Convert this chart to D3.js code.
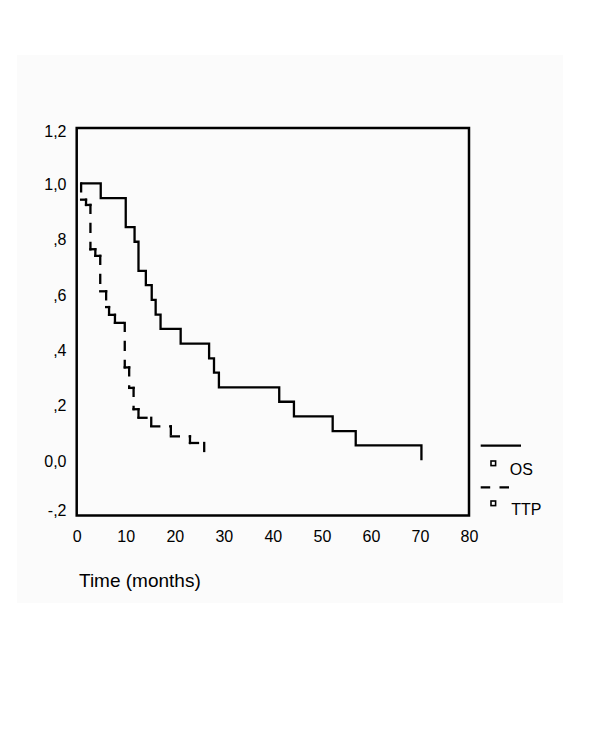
<!DOCTYPE html>
<html>
<head>
<meta charset="utf-8">
<script src="https://cdn.jsdelivr.net/npm/d3@7/dist/d3.min.js"></script>
<style>
  html, body { margin: 0; padding: 0; background: #ffffff; }
  svg { display: block; }
  text { font-family: "Liberation Sans", Arial, sans-serif; fill: #000; }
</style>
</head>
<body>
<svg id="chart" width="600" height="739"></svg>
<script>
// ---- data ----
const osTime  = [0.9, 4.9, 10.0, 11.8, 12.6, 14.1, 15.3, 16.1, 17.1, 21.2, 27.0, 28.0, 29.0, 41.3, 44.3, 52.2, 56.9, 70.3];
const osSurv  = [1.0, 0.947, 0.842, 0.789, 0.684, 0.632, 0.579, 0.526, 0.474, 0.421, 0.368, 0.316, 0.263, 0.211, 0.158, 0.105, 0.053, 0.0];
const ttpTime = [0.9, 0.9, 1.9, 2.8, 3.8, 4.8, 6.0, 6.6, 7.8, 9.8, 10.7, 11.6, 12.6, 15.2, 19.2, 23.1, 26.0];
const ttpSurv = [1.0, 0.941, 0.922, 0.762, 0.738, 0.610, 0.553, 0.525, 0.496, 0.335, 0.261, 0.184, 0.153, 0.122, 0.086, 0.062, 0.0];
const xTicks = [0, 10, 20, 30, 40, 50, 60, 70, 80];
const yTicks = [-0.2, 0, 0.2, 0.4, 0.6, 0.8, 1.0, 1.2];
const yTickLabels = ["-,2", "0,0", ",2", ",4", ",6", ",8", "1,0", "1,2"];
const seriesNames = ["OS", "TTP"];
const xTitle = "Time (months)";

// ---- layout ----
const svg = d3.select("#chart");
const L = 76.7, R = 469, T = 128, B = 515.5;
const x = d3.scaleLinear().domain([0, 80]).range([L, R]);
const y = d3.scaleLinear().domain([-0.2, 1.2]).range([B, T]);

// faint page panel
svg.append("rect").attr("x", 17).attr("y", 55).attr("width", 546).attr("height", 548)
  .attr("fill", "#fbfbfb");

// frame
svg.append("rect").attr("x", L).attr("y", T).attr("width", R - L).attr("height", B - T)
  .attr("fill", "none").attr("stroke", "#000").attr("stroke-width", 2.5);

// y axis
const yAxis = svg.append("g").attr("transform", "translate(66.5,0)")
  .call(d3.axisLeft(y).tickValues(yTicks).tickSize(0).tickPadding(0)
        .tickFormat((d, i) => yTickLabels[i]));
yAxis.select(".domain").remove();
yAxis.selectAll("text")
  .attr("font-size", 16).attr("font-family", null).attr("dy", null)
  .attr("y", d => Math.min(Math.max(y(d) + 6, T + 8.7), B + 0.2) - y(d));

// x axis
const xAxis = svg.append("g").attr("transform", `translate(0,${B})`)
  .call(d3.axisBottom(x).tickValues(xTicks).tickSize(0).tickPadding(0));
xAxis.select(".domain").remove();
xAxis.selectAll("text")
  .attr("font-size", 16).attr("font-family", null).attr("dy", null).attr("y", 26);

// x title
svg.append("text").attr("x", 79).attr("y", 586.5).attr("font-size", 19).text(xTitle);

// OS curve: solid step
const osPts = osTime.map((t, i) => [t, osSurv[i]]);
svg.append("path").datum(osPts)
  .attr("d", d3.line().x(d => x(d[0])).y(d => y(d[1])).curve(d3.curveStepAfter))
  .attr("fill", "none").attr("stroke", "#000").attr("stroke-width", 2.3)
  .attr("stroke-linejoin", "miter");

// TTP curve: dashed step, dash pattern restarting at every segment
const segs = [];
for (let i = 0; i < ttpTime.length - 1; i++) {
  const t0 = ttpTime[i], t1 = ttpTime[i + 1], s0 = ttpSurv[i], s1 = ttpSurv[i + 1];
  if (t1 > t0) segs.push([t0, s0, t1, s0]);
  if (s1 !== s0) segs.push([t1, s0, t1, s1]);
}
svg.append("g").selectAll("line").data(segs).join("line")
  .attr("x1", d => x(d[0])).attr("y1", d => y(d[1]))
  .attr("x2", d => x(d[2])).attr("y2", d => y(d[3]))
  .attr("stroke", "#000").attr("stroke-width", 2.3)
  .attr("stroke-linecap", "square").attr("stroke-dasharray", "8 11");

// legend
const lg = svg.append("g");
lg.append("line").attr("x1", 480.7).attr("x2", 521).attr("y1", 445.7).attr("y2", 445.7)
  .attr("stroke", "#000").attr("stroke-width", 2.3);
lg.append("line").attr("x1", 480.7).attr("x2", 509.5).attr("y1", 487.3).attr("y2", 487.3)
  .attr("stroke", "#000").attr("stroke-width", 2.3).attr("stroke-dasharray", "9.5 9.3");
[463.3, 503.3].forEach((cy, i) => {
  lg.append("rect").attr("x", 493.3 - 2.3).attr("y", cy - 2.3).attr("width", 4.6).attr("height", 4.6)
    .attr("fill", "#fff").attr("stroke", "#000").attr("stroke-width", 1.6);
  lg.append("text").attr("x", i === 0 ? 509.8 : 511.3).attr("y", i === 0 ? 475 : 514.5)
    .attr("font-size", 16).text(seriesNames[i]);
});
</script>
</body>
</html>
